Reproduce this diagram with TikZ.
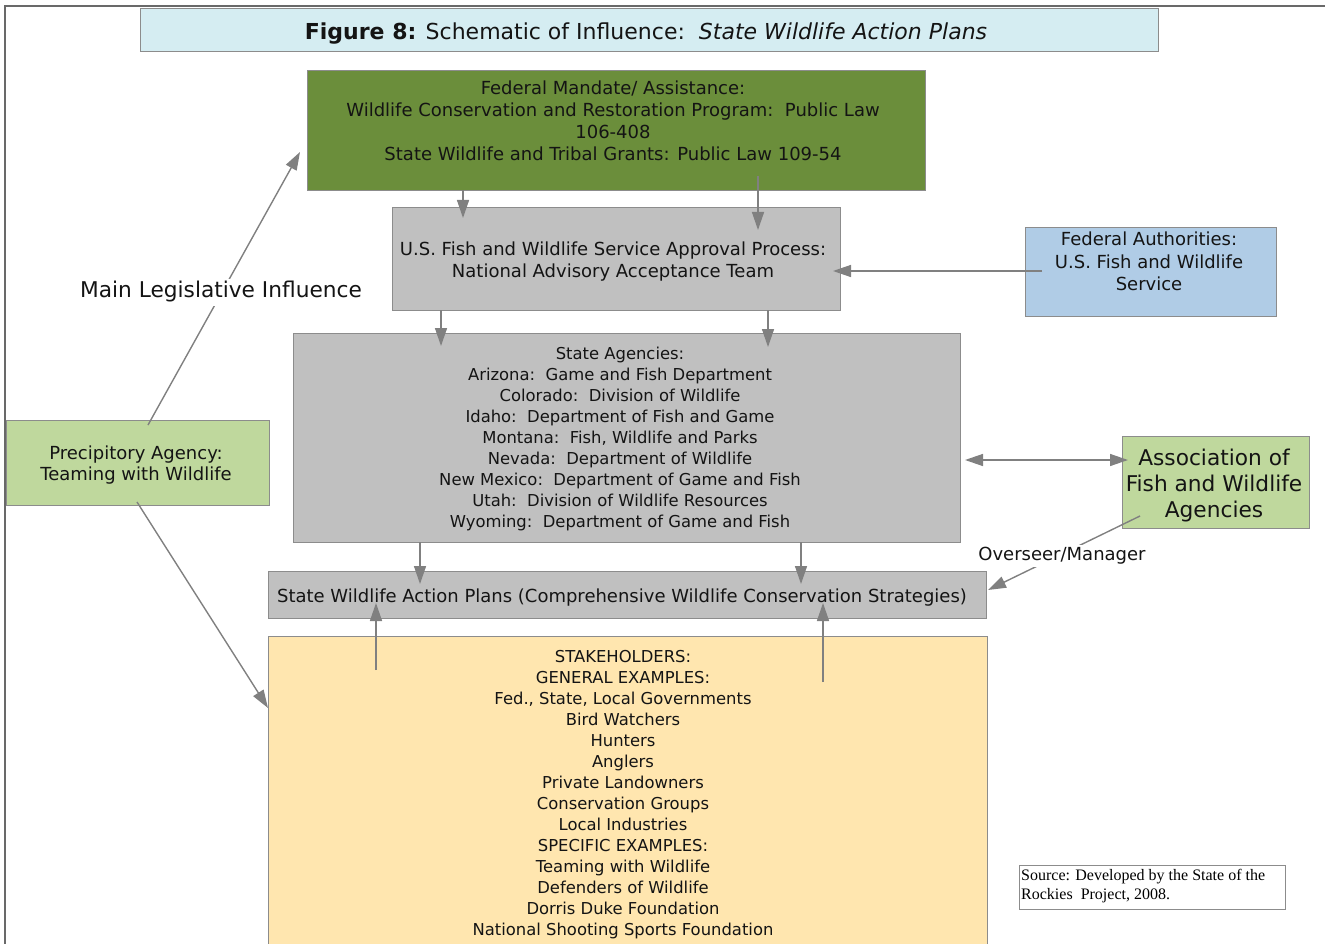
\documentclass[tikz,border=0pt]{standalone}
\usepackage{fontspec}
\setmainfont{DejaVu Sans}
\newfontfamily\srcfont{Liberation Serif}
\usetikzlibrary{arrows.meta,calc}
\definecolor{framec}{RGB}{105,105,105}
\definecolor{boxline}{RGB}{140,140,140}
\definecolor{arrowc}{RGB}{128,128,128}
\definecolor{titlefill}{RGB}{213,237,242}
\definecolor{darkgreen}{RGB}{107,142,59}
\definecolor{graybox}{RGB}{192,192,192}
\definecolor{bluebox}{RGB}{176,204,230}
\definecolor{lightgreen}{RGB}{191,216,157}
\definecolor{stakefill}{RGB}{255,230,175}
\definecolor{textc}{RGB}{20,20,20}
\newcommand\fsMid{\fontsize{16.4}{21}\selectfont}
\newcommand\fsBig{\fontsize{18}{22}\selectfont}
\newcommand\fsHuge{\fontsize{21.7}{26}\selectfont}
\begin{document}
\begin{tikzpicture}[x=1pt,y=-1pt,
  boxnode/.style={draw=boxline,line width=1.3pt,inner sep=0pt,anchor=north west},
  txt/.style={align=center,text=textc,inner sep=0pt},
  conn/.style={draw=arrowc,line width=1.4pt,-{Triangle[length=18pt,width=12pt]}},
  dconn/.style={draw=arrowc,line width=1.4pt,{Triangle[length=18pt,width=12pt]}-{Triangle[length=18pt,width=12pt]}}]
\useasboundingbox (0,0) rectangle (1325,944);
% frame
\draw[framec,line width=2pt] (5,944) -- (5,6) -- (1325,6);
% boxes
\node[boxnode,fill=titlefill,minimum width=1018,minimum height=43] (title) at (140,8) {};
\node[boxnode,fill=darkgreen,minimum width=618,minimum height=120] (fed) at (307,70) {};
\node[boxnode,fill=graybox,minimum width=448,minimum height=103] (appr) at (392,207) {};
\node[boxnode,fill=bluebox,minimum width=251,minimum height=89] (auth) at (1025,227) {};
\node[boxnode,fill=graybox,minimum width=667,minimum height=209] (state) at (293,333) {};
\node[boxnode,fill=lightgreen,minimum width=187,minimum height=92] (assoc) at (1122,436) {};
\node[boxnode,fill=lightgreen,minimum width=263,minimum height=85] (prec) at (6,420) {};
\node[boxnode,fill=graybox,minimum width=718,minimum height=47] (swap) at (268,571) {};
\node[boxnode,fill=stakefill,minimum width=719,minimum height=330] (stake) at (268,636) {};
\node[draw=boxline,line width=1pt,inner sep=0pt,anchor=north west,minimum width=266,minimum height=44] (src) at (1019,865) {};
% texts
\node[txt,font=\fontsize{22}{26}\selectfont] (titlet) at (646,34) {\textbf{Figure 8:} Schematic of Influence:\ \ \textit{State Wildlife Action Plans}};
\node[txt,font=\fsBig] (fedt) at (613,120.5) {Federal Mandate/ Assistance:\\Wildlife Conservation and Restoration Program:\ \ Public Law\\106-408\\State Wildlife and Tribal Grants: Public Law 109-54};
\node[txt,font=\fsBig] (apprt) at (613,262) {U.S. Fish and Wildlife Service Approval Process:\\National Advisory Acceptance Team};
\node[txt,font=\fontsize{18}{22.5}\selectfont] (autht) at (1149,261.5) {Federal Authorities:\\U.S. Fish and Wildlife\\Service};
\node[txt,font=\fsMid] (statet) at (620,438.5) {State Agencies:\\Arizona:\ \ Game and Fish Department\\Colorado:\ \ Division of Wildlife\\Idaho:\ \ Department of Fish and Game\\Montana:\ \ Fish, Wildlife and Parks\\Nevada:\ \ Department of Wildlife\\New Mexico:\ \ Department of Game and Fish\\Utah:\ \ Division of Wildlife Resources\\Wyoming:\ \ Department of Game and Fish};
\node[txt,font=\fsHuge] (assoct) at (1214,486) {Association of\\Fish and Wildlife\\Agencies};
\node[txt,font=\fontsize{18}{21}\selectfont] (prect) at (136,465.5) {Precipitory Agency:\\Teaming with Wildlife};
\node[txt,font=\fsBig] (swapt) at (622,598) {State Wildlife Action Plans (Comprehensive Wildlife Conservation Strategies)};
\node[txt,font=\fsMid] (staket) at (623,795) {STAKEHOLDERS:\\GENERAL EXAMPLES:\\Fed., State, Local Governments\\Bird Watchers\\Hunters\\Anglers\\Private Landowners\\Conservation Groups\\Local Industries\\SPECIFIC EXAMPLES:\\Teaming with Wildlife\\Defenders of Wildlife\\Dorris Duke Foundation\\National Shooting Sports Foundation};
\node[inner sep=0pt,align=left,anchor=west,font=\srcfont\fontsize{16}{19.5}\selectfont] (srct) at (1021,886) {Source: Developed by the State of the\\Rockies\ \ Project, 2008.};
% connector end points
\coordinate (f1) at (463,190);  \coordinate (f1e) at (463,218);
\coordinate (f2) at (758,176);  \coordinate (f2e) at (758,230);
\coordinate (au) at (1042,271); \coordinate (aue) at (833,271);
\coordinate (a1) at (441,310);  \coordinate (a1e) at (441,346);
\coordinate (a2) at (768,310);  \coordinate (a2e) at (768,347);
\coordinate (s1) at (420,542);  \coordinate (s1e) at (420,584);
\coordinate (s2) at (801,542);  \coordinate (s2e) at (801,584);
\coordinate (k1) at (376,670);  \coordinate (k1e) at (376,603);
\coordinate (k2) at (823,682);  \coordinate (k2e) at (823,603);
\coordinate (dl) at (965,460);  \coordinate (dr) at (1128,460);
\coordinate (ov) at (1140,516); \coordinate (ove) at (988,590);
\coordinate (ml) at (148,425);  \coordinate (mle) at (300,152);
\coordinate (pr) at (137,502);  \coordinate (pre) at (268,708);
% connectors
\draw[conn] (f1) -- (f1e);
\draw[conn] (f2) -- (f2e);
\draw[conn] (au) -- (aue);
\draw[conn] (a1) -- (a1e);
\draw[conn] (a2) -- (a2e);
\draw[conn] (s1) -- (s1e);
\draw[conn] (s2) -- (s2e);
\draw[conn] (k1) -- (k1e);
\draw[conn] (k2) -- (k2e);
\draw[dconn] (dl) -- (dr);
\draw[conn] (ov) -- (ove);
\draw[conn] (ml) -- (mle);
\draw[conn] (pr) -- (pre);
% labels on connectors
\node[txt,fill=white,inner sep=3pt,font=\fsHuge] (mlt) at (221,292) {Main Legislative Influence};
\node[txt,fill=white,inner sep=2pt,font=\fsBig] (ovt) at (1062,556) {Overseer/Manager};
\end{tikzpicture}
\end{document}
